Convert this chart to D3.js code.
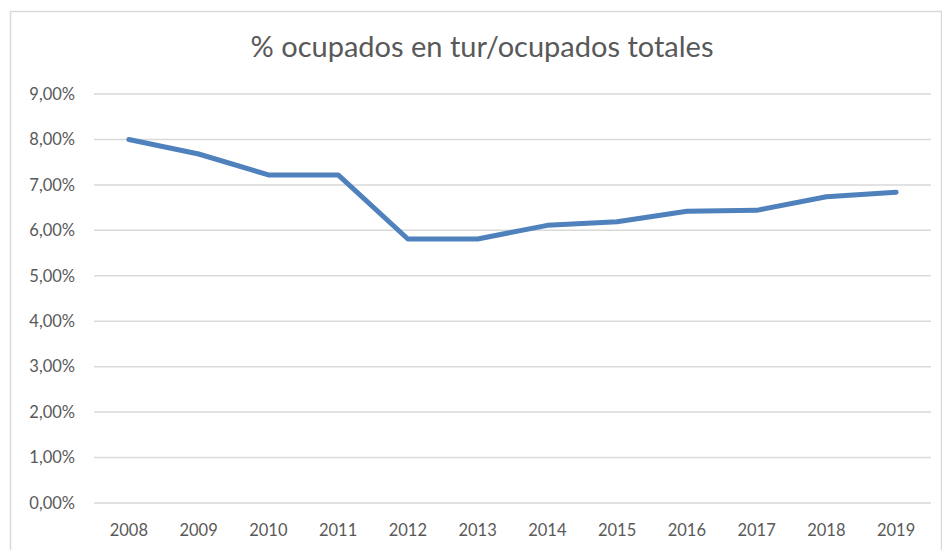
<!DOCTYPE html>
<html>
<head>
<meta charset="utf-8">
<script src="https://cdn.jsdelivr.net/npm/d3@7"></script>
<style>
  body { margin: 0; background: #fff; }
  svg { display: block; font-family: Lato, "Liberation Sans", sans-serif; }
</style>
</head>
<body>
<div id="chart"></div>
<script>
// ------------------------------------------------------------
// Data
// ------------------------------------------------------------
const years = ["2008", "2009", "2010", "2011", "2012", "2013", "2014", "2015", "2016", "2017", "2018", "2019"];
const shares = [8.00, 7.68, 7.22, 7.22, 5.81, 5.81, 6.11, 6.19, 6.42, 6.44, 6.74, 6.84];
const yTicks = [0, 1, 2, 3, 4, 5, 6, 7, 8, 9];
const title = "% ocupados en tur/ocupados totales";

const width = 942, height = 550;
const margin = { top: 94, right: 11, bottom: 47, left: 94 };
const fontFamily = "Lato, 'Liberation Sans', sans-serif";

const svg = d3.select("#chart").append("svg")
  .attr("width", width)
  .attr("height", height);

// Chart frame (bottom edge falls outside the picture)
svg.append("rect")
  .attr("x", 10.5)
  .attr("y", 11.5)
  .attr("width", 931)
  .attr("height", 560)
  .attr("fill", "none")
  .attr("stroke", "#d9d9d9")
  .attr("stroke-width", 1.5);

const x = d3.scaleBand()
  .domain(years)
  .range([margin.left, width - margin.right]);

const y = d3.scaleLinear()
  .domain([0, 9])
  .range([height - margin.bottom, margin.top]);

// Gridlines
svg.append("g")
  .selectAll("line")
  .data(yTicks)
  .join("line")
  .attr("x1", margin.left)
  .attr("x2", width - margin.right)
  .attr("y1", d => y(d))
  .attr("y2", d => y(d))
  .attr("stroke", "#d9d9d9")
  .attr("stroke-width", 1.5);

// Y axis labels
const yAxis = svg.append("g")
  .attr("transform", `translate(${margin.left - 19},0)`)
  .call(d3.axisLeft(y).tickValues(yTicks).tickSize(0)
    .tickFormat(d => d.toFixed(2).replace(".", ",") + "%"))
  .attr("font-family", fontFamily);
yAxis.select(".domain").remove();
yAxis.selectAll("text")
  .attr("fill", "#595959")
  .attr("font-size", 16.5)
  .attr("x", 0);

// X axis labels
const xAxis = svg.append("g")
  .attr("transform", `translate(0,${height - margin.bottom})`)
  .call(d3.axisBottom(x).tickSize(0))
  .attr("font-family", fontFamily);
xAxis.select(".domain").remove();
xAxis.selectAll("text")
  .attr("fill", "#595959")
  .attr("font-size", 16.5)
  .attr("y", 21);

// Title
svg.append("text")
  .attr("x", 482)
  .attr("y", 57)
  .attr("text-anchor", "middle")
  .attr("fill", "#595959")
  .attr("font-size", 29)
  .text(title);

// Line
const line = d3.line()
  .x((d, i) => x(years[i]) + x.bandwidth() / 2)
  .y(d => y(d));

svg.append("path")
  .datum(shares)
  .attr("fill", "none")
  .attr("stroke", "#4f81bd")
  .attr("stroke-width", 5)
  .attr("stroke-linejoin", "round")
  .attr("stroke-linecap", "round")
  .attr("d", line);
</script>
</body>
</html>
